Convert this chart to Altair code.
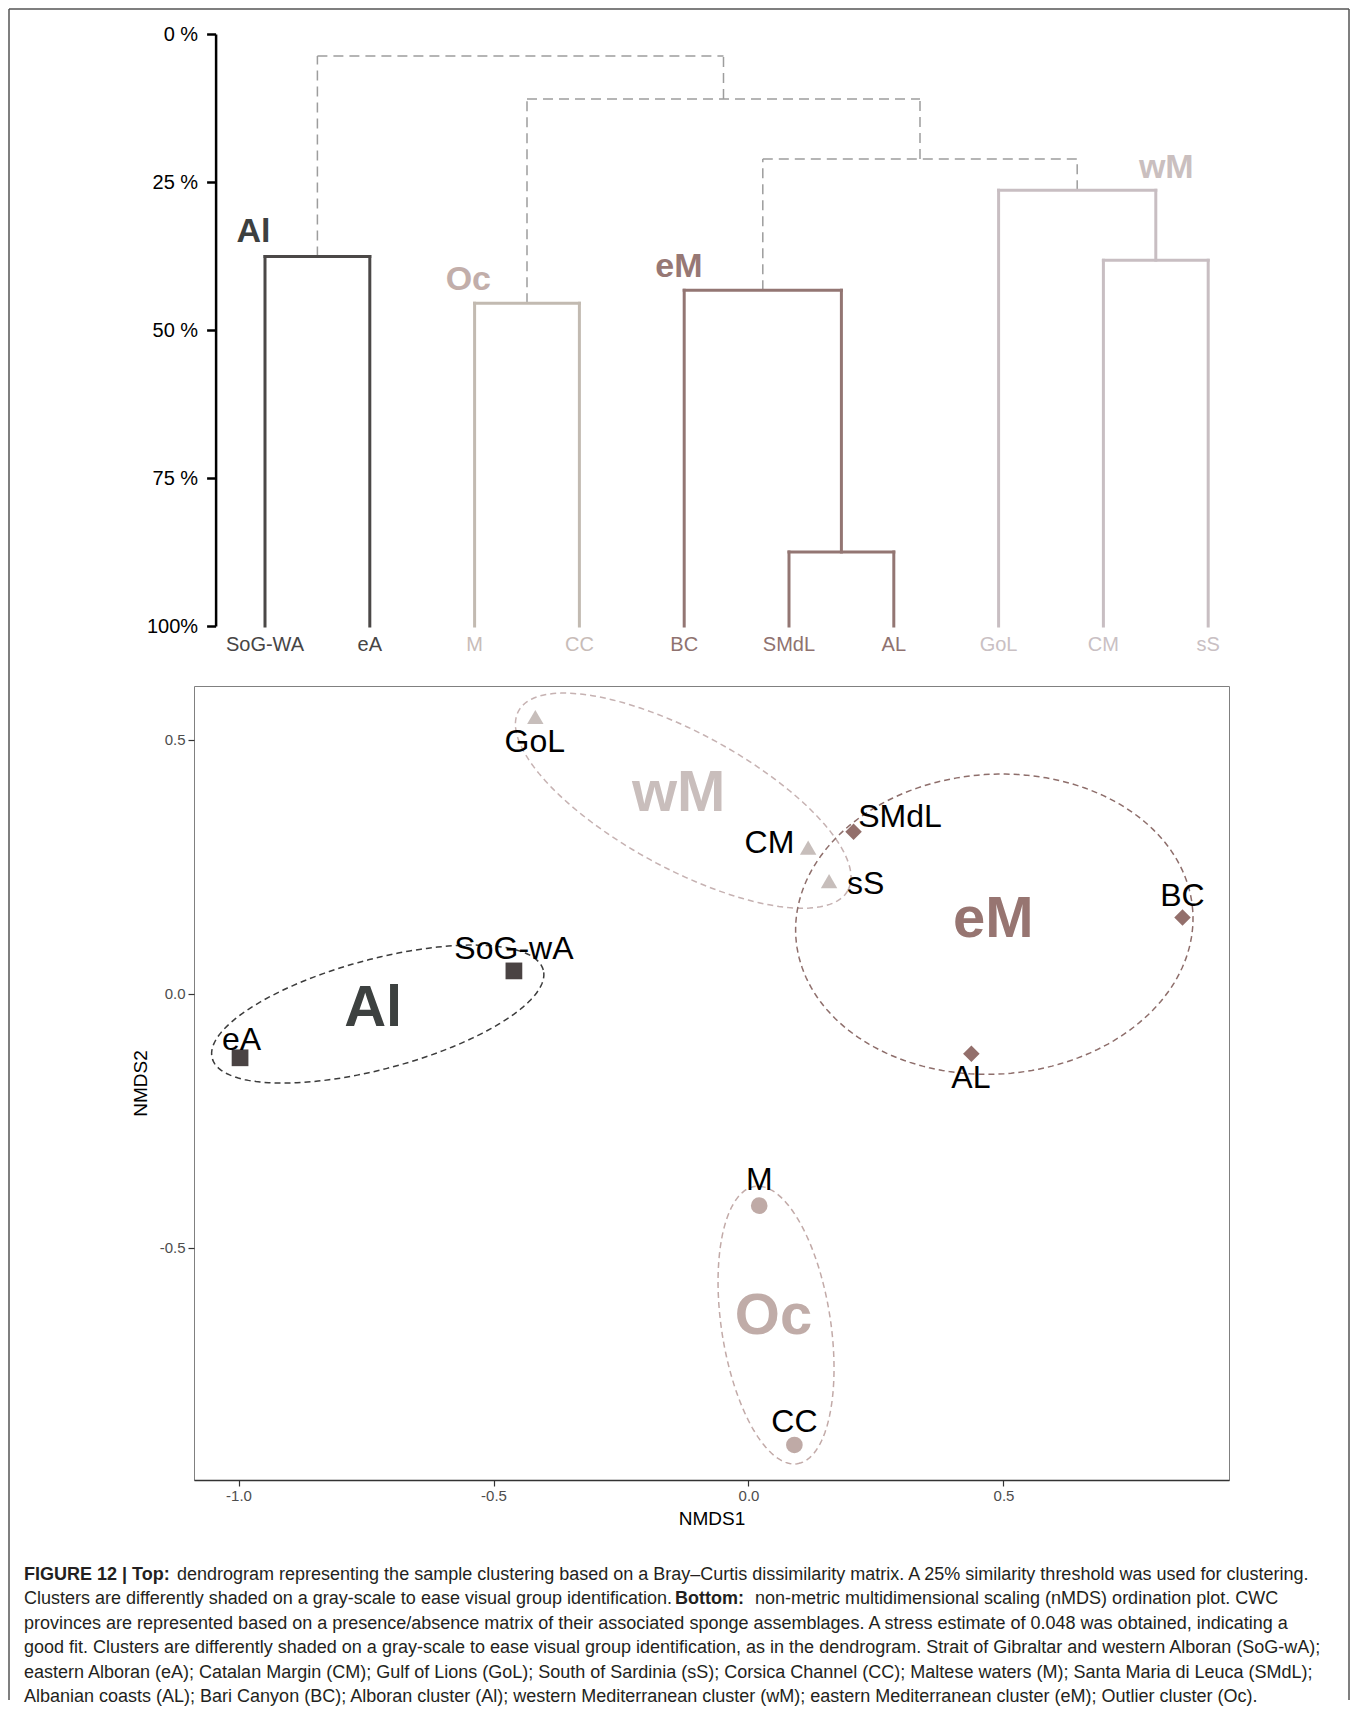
import altair as alt
import numpy as np
import pandas as pd

# ---------------- data: dendrogram ----------------
leaves = ["SoG-WA", "eA", "M", "CC", "BC", "SMdL", "AL", "GoL", "CM", "sS"]
leaf_cluster = ["Al", "Al", "Oc", "Oc", "eM", "eM", "eM", "wM", "wM", "wM"]

# merges (m1..m9 in order), heights in % dissimilarity
merge_left = ["SoG-WA", "M", "SMdL", "BC", "CM", "GoL", "m4", "m2", "m1"]
merge_right = ["eA", "CC", "AL", "m3", "sS", "m5", "m6", "m7", "m8"]
merge_height = [37.6, 45.5, 87.5, 43.3, 38.2, 26.4, 21.1, 11.0, 3.7]
merge_group = ["Al", "Oc", "eM", "eM", "wM", "wM", "link", "link", "link"]

dend_label = ["Al", "Oc", "eM", "wM"]
dend_label_x = [-0.11, 1.94, 3.95, 8.60]
dend_label_y = [33.4, 41.6, 39.3, 22.6]

dend_ticks = [0, 25, 50, 75, 100]

# ---------------- data: nMDS ----------------
sites = ["SoG-wA", "eA", "GoL", "CM", "sS", "SMdL", "BC", "AL", "M", "CC"]
site_cluster = ["Al", "Al", "wM", "wM", "wM", "eM", "eM", "eM", "Oc", "Oc"]
nmds1 = [-0.460, -0.997, -0.418, 0.117, 0.158, 0.206, 0.851, 0.437, 0.021, 0.090]
nmds2 = [0.045, -0.126, 0.540, 0.283, 0.217, 0.319, 0.150, -0.118, -0.417, -0.888]
label_x = [-0.460, -0.994, -0.419, 0.041, 0.230, 0.297, 0.851, 0.436, 0.021, 0.090]
label_y = [0.089, -0.091, 0.496, 0.297, 0.217, 0.348, 0.193, -0.166, -0.367, -0.843]

cluster_label = ["Al", "wM", "eM", "Oc"]
cluster_label_x = [-0.736, -0.137, 0.480, 0.049]
cluster_label_y = [-0.029, 0.394, 0.145, -0.636]

ellipse_cluster = ["Al", "wM", "eM", "Oc"]
ellipse_cx = [-0.727, -0.128, 0.482, 0.054]
ellipse_cy = [-0.040, 0.380, 0.137, -0.652]
ellipse_a = [0.336, 0.368, 0.390, 0.276]
ellipse_b = [0.108, 0.133, 0.295, 0.107]
ellipse_angle = [15.0, -28.7, 3.8, -81.3]

nmds_x_ticks = [-1.0, -0.5, 0.0, 0.5]
nmds_y_ticks = [-0.5, 0.0, 0.5]

caption_lines = [
    ["FIGURE 12 | Top:", "dendrogram representing the sample clustering based on a Bray\u2013Curtis dissimilarity matrix. A 25% similarity threshold was used for clustering."],
    ["Clusters are differently shaded on a gray-scale to ease visual group identification.", "Bottom:", "non-metric multidimensional scaling (nMDS) ordination plot. CWC"],
    ["provinces are represented based on a presence/absence matrix of their associated sponge assemblages. A stress estimate of 0.048 was obtained, indicating a"],
    ["good fit. Clusters are differently shaded on a gray-scale to ease visual group identification, as in the dendrogram. Strait of Gibraltar and western Alboran (SoG-wA);"],
    ["eastern Alboran (eA); Catalan Margin (CM); Gulf of Lions (GoL); South of Sardinia (sS); Corsica Channel (CC); Maltese waters (M); Santa Maria di Leuca (SMdL);"],
    ["Albanian coasts (AL); Bari Canyon (BC); Alboran cluster (Al); western Mediterranean cluster (wM); eastern Mediterranean cluster (eM); Outlier cluster (Oc)."],
]
caption_bold = [[True, False], [False, True, False], [False], [False], [False], [False]]

# ---------------- styles ----------------
CL = ["Al", "Oc", "eM", "wM"]
line_colors = ["#4b4847", "#c2bab1", "#937673", "#c8bec2"]
leaf_label_colors = ["#474545", "#c8bcb8", "#8f726f", "#c9c0c3"]
dend_label_colors = ["#3d403f", "#c2aeaa", "#977875", "#cabfbf"]
point_colors = ["#4a4343", "#bfaaa6", "#936f6b", "#c7bebb"]
ellipse_colors = ["#3c3c3c", "#c2aaa8", "#8e6e6b", "#c6b2b2"]
nmds_label_colors = ["#3d4140", "#c0aca8", "#977571", "#c9bebc"]
TRIANGLE = "M0,-1.155L1,0.577L-1,0.577Z"
point_shapes = ["square", "circle", "diamond", TRIANGLE]
point_sizes = [280, 270, 220, 430]

FONT = "Liberation Sans"
W = 1035
H1 = 592
H2 = 794
SPACING = 60

# ---------------- dendrogram table ----------------
pos = {name: (float(i), 100.0) for i, name in enumerate(leaves)}
segs = []
for k, (l, r, h, g) in enumerate(zip(merge_left, merge_right, merge_height, merge_group)):
    lx, ly = pos[l]
    rx, ry = pos[r]
    segs.append(dict(x=lx, x2=lx, y=ly, y2=h, group=g))
    segs.append(dict(x=rx, x2=rx, y=ry, y2=h, group=g))
    segs.append(dict(x=lx, x2=rx, y=h, y2=h, group=g))
    pos[f"m{k+1}"] = ((lx + rx) / 2, h)
seg_df = pd.DataFrame(segs)

leaf_df = pd.DataFrame({"x": list(range(len(leaves))), "y": [100.0] * len(leaves),
                        "name": leaves, "cluster": leaf_cluster})
dlab_df = pd.DataFrame({"x": dend_label_x, "y": dend_label_y, "name": dend_label, "cluster": dend_label})

dx_scale = alt.Scale(domain=[-0.6775, 9.1985], nice=False, zero=False)
dy_scale = alt.Scale(domain=[0, 100], reverse=True, nice=False, zero=False)
d_axis = alt.Axis(values=dend_ticks, title=None, grid=False,
                  labelExpr="datum.value == 100 ? '100%' : datum.value + ' %'",
                  domainColor="black", domainWidth=2.5, tickColor="black", tickWidth=2.5,
                  tickSize=9, labelFontSize=20, labelFontWeight="normal", labelColor="black",
                  labelPadding=9, offset=-21.6)
DX = alt.X("x:Q", scale=dx_scale, axis=None)
DY = alt.Y("y:Q", scale=dy_scale, axis=d_axis)

dashed = alt.Chart(seg_df).transform_filter("datum.group == 'link'").mark_rule(
    strokeWidth=1.5, strokeDash=[10, 6], color="#9d9d9d").encode(x=DX, x2="x2:Q", y=DY, y2="y2:Q")
solid = alt.Chart(seg_df).transform_filter("datum.group != 'link'").mark_rule(
    strokeWidth=3, strokeCap="square").encode(
    x=DX, x2="x2:Q", y=DY, y2="y2:Q",
    color=alt.Color("group:N", scale=alt.Scale(domain=CL, range=line_colors), legend=None))
leaf_text = alt.Chart(leaf_df).mark_text(dy=19, fontSize=20, baseline="middle").encode(
    x=DX, y=DY, text="name:N",
    color=alt.Color("cluster:N", scale=alt.Scale(domain=CL, range=leaf_label_colors), legend=None))
dlab_text = alt.Chart(dlab_df).mark_text(fontSize=34, fontWeight="bold", baseline="middle").encode(
    x=DX, y=DY, text="name:N",
    color=alt.Color("cluster:N", scale=alt.Scale(domain=CL, range=dend_label_colors), legend=None))

frame_df = pd.DataFrame({"k": [0]})
FR = dict(color="#555555", strokeWidth=1.5)
f_left = alt.Chart(frame_df).mark_rule(**FR).encode(x=alt.value(-185), y=alt.value(-25), y2=alt.value(1666))
f_top = alt.Chart(frame_df).mark_rule(**FR).encode(x=alt.value(-185), x2=alt.value(1155), y=alt.value(-25))
f_right = alt.Chart(frame_df).mark_rule(**FR).encode(x=alt.value(1155), y=alt.value(-25), y2=alt.value(1666))

dendro = alt.layer(f_left, f_top, f_right, dashed, solid, leaf_text, dlab_text).resolve_scale(
    color="independent").properties(width=W, height=H1, view=alt.ViewBackground(stroke=None))

# ---------------- nMDS table ----------------
site_df = pd.DataFrame({"x": nmds1, "y": nmds2, "site": sites, "cluster": site_cluster})
slab_df = pd.DataFrame({"x": label_x, "y": label_y, "site": sites})
clab_df = pd.DataFrame({"x": cluster_label_x, "y": cluster_label_y, "name": cluster_label,
                        "cluster": cluster_label})
ell_rows = []
t = np.linspace(0, 2 * np.pi, 181)
for c, cx, cy, a, b, ang in zip(ellipse_cluster, ellipse_cx, ellipse_cy, ellipse_a, ellipse_b, ellipse_angle):
    th = np.deg2rad(ang)
    xs = cx + a * np.cos(t) * np.cos(th) - b * np.sin(t) * np.sin(th)
    ys = cy + a * np.cos(t) * np.sin(th) + b * np.sin(t) * np.cos(th)
    for i, (xx, yy) in enumerate(zip(xs, ys)):
        ell_rows.append(dict(x=xx, y=yy, i=i, cluster=c))
ell_df = pd.DataFrame(ell_rows)

nx_scale = alt.Scale(domain=[-1.0873, 0.9422], nice=False, zero=False)
ny_scale = alt.Scale(domain=[-0.9569, 0.6057], nice=False, zero=False)
lab_expr = "replace(format(datum.value, '.1f'), '\u2212', '-')"
nx_axis = alt.Axis(values=nmds_x_ticks, labelExpr=lab_expr, title="NMDS1", grid=False,
                   domainColor="#333333", domainWidth=1.5, tickColor="#333333", tickWidth=1.2,
                   tickSize=6, labelColor="#4d4d4d", labelFontSize=15, labelPadding=2,
                   titleFontSize=19, titleFontWeight="normal", titleColor="black", titlePadding=6)
ny_axis = alt.Axis(values=nmds_y_ticks, labelExpr=lab_expr, title="NMDS2", grid=False,
                   domain=False, tickColor="#333333", tickWidth=1.2,
                   tickSize=6, labelColor="#4d4d4d", labelFontSize=15, labelPadding=3,
                   titleFontSize=19, titleFontWeight="normal", titleColor="black", titlePadding=9)
NX = alt.X("x:Q", scale=nx_scale, axis=nx_axis)
NY = alt.Y("y:Q", scale=ny_scale, axis=ny_axis)

ell = alt.Chart(ell_df).mark_line(strokeWidth=1.5, strokeDash=[6, 4]).encode(
    x=NX, y=NY, order="i:Q", detail="cluster:N",
    color=alt.Color("cluster:N", scale=alt.Scale(domain=CL, range=ellipse_colors), legend=None))
pts = alt.Chart(site_df).mark_point(filled=True, opacity=1, strokeWidth=0).encode(
    x=NX, y=NY,
    shape=alt.Shape("cluster:N", scale=alt.Scale(domain=CL, range=point_shapes), legend=None),
    size=alt.Size("cluster:N", scale=alt.Scale(domain=CL, range=point_sizes), legend=None),
    color=alt.Color("cluster:N", scale=alt.Scale(domain=CL, range=point_colors), legend=None))
slab = alt.Chart(slab_df).mark_text(fontSize=32, color="black", baseline="middle").encode(
    x=NX, y=NY, text="site:N")
clab = alt.Chart(clab_df).mark_text(fontSize=58, fontWeight="bold", baseline="middle").encode(
    x=NX, y=NY, text="name:N",
    color=alt.Color("cluster:N", scale=alt.Scale(domain=CL, range=nmds_label_colors), legend=None))

nmds = alt.layer(ell, pts, clab, slab).resolve_scale(color="independent").properties(
    width=W, height=H2, view=alt.ViewBackground(stroke="#808080", strokeWidth=1))

# ---------------- caption ----------------
cap_x_starts = [[-170, -17], [-170, 481, 561], [-170], [-170], [-170], [-170]]
cap_rows = []
for li, (parts, bolds, xs0) in enumerate(zip(caption_lines, caption_bold, cap_x_starts)):
    for p, b, x0 in zip(parts, bolds, xs0):
        cap_rows.append(dict(text=p, bold="bold" if b else "normal", px=x0, py=35 + 24.4 * li))
cap_df = pd.DataFrame(cap_rows)
cap_norm = alt.Chart(cap_df).transform_filter("datum.bold == 'normal'").mark_text(
    fontSize=18, align="left", baseline="middle", color="#231f20").encode(
    x=alt.X("px:Q", scale=None), y=alt.Y("py:Q", scale=None), text="text:N")
cap_bold = alt.Chart(cap_df).transform_filter("datum.bold == 'bold'").mark_text(
    fontSize=18, fontWeight="bold", align="left", baseline="middle", color="#231f20").encode(
    x=alt.X("px:Q", scale=None), y=alt.Y("py:Q", scale=None), text="text:N")
caption = alt.layer(cap_norm, cap_bold).properties(width=W, height=100,
                                                     view=alt.ViewBackground(stroke=None))

chart = alt.vconcat(dendro, nmds, caption, spacing=SPACING, bounds="flush", padding=0).configure(
    font=FONT).configure_view(stroke=None)

chart.save("out.html", embed_options={"renderer": "svg", "actions": False})
